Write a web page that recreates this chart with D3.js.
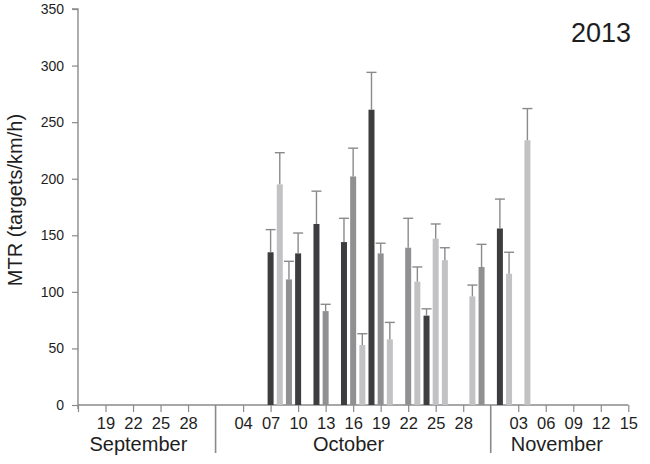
<!DOCTYPE html>
<html>
<head>
<meta charset="utf-8">
<script src="https://cdn.jsdelivr.net/npm/d3@7"></script>
<style>
html,body{margin:0;padding:0;background:#fff;}
svg{display:block;font-family:"Liberation Sans",Arial,Helvetica,sans-serif;}
</style>
</head>
<body>
<svg id="chart" width="650" height="464"></svg>
<script>
// ---- data ----
const dates = ["2013-10-07","2013-10-08","2013-10-09","2013-10-10","2013-10-12","2013-10-13",
  "2013-10-15","2013-10-16","2013-10-17","2013-10-18","2013-10-19","2013-10-20",
  "2013-10-22","2013-10-23","2013-10-24","2013-10-25","2013-10-26","2013-10-29","2013-10-30",
  "2013-11-01","2013-11-02","2013-11-04"];
const values = [135,195,111,134,160,83,144,202,53,261,134,58,139,109,79,147,128,96,122,156,116,234];
const errors = [20,28,16,18,29,6,21,25,10,33,9,15,26,13,6,13,11,10,20,26,19,28];
const shades = ["dark","light","medium","dark","dark","medium","dark","medium","light","dark","medium","light",
  "medium","light","dark","light","light","light","medium","dark","light","light"];
const yTicks = [0,50,100,150,200,250,300,350];
const xTickDates = ["2013-09-19","2013-09-22","2013-09-25","2013-09-28",
  "2013-10-04","2013-10-07","2013-10-10","2013-10-13","2013-10-16","2013-10-19","2013-10-22","2013-10-25","2013-10-28",
  "2013-11-03","2013-11-06","2013-11-09","2013-11-12","2013-11-15"];
const xTickLabels = ["19","22","25","28","04","07","10","13","16","19","22","25","28","03","06","09","12","15"];
const monthNames = ["September","October","November"];
const monthLabelDates = ["2013-09-22T14:00","2013-10-15T12:00","2013-11-07T05:00"];
const monthSeparators = ["2013-10-01","2013-10-31"];
const xDomain = ["2013-09-16","2013-11-15"];
const yearLabel = "2013";
const yLabel = "MTR (targets/km/h)";

// ---- chart ----
const parse = s => new Date(s.length > 10 ? s + ":00Z" : s + "T00:00:00Z");
const svg = d3.select("#chart");
const x = d3.scaleUtc().domain(xDomain.map(parse)).range([78, 628.3]);
const y = d3.scaleLinear().domain([0, 350]).range([405, 9]);
const color = {dark:"#3d3d3f", medium:"#909092", light:"#c2c2c4"};
const axisColor = "#8a8a8a";
const textColor = "#1e1e1e";

const data = dates.map((d,i)=>({date:parse(d), v:values[i], e:errors[i], s:shades[i]}));

// y axis
const yAxis = svg.append("g").attr("transform","translate(78,0)")
  .call(d3.axisLeft(y).tickValues(yTicks).tickSize(6).tickPadding(8).tickFormat(d3.format("d")));
yAxis.select(".domain").attr("stroke",axisColor).attr("stroke-width",1.4).attr("d","M-6,9H0V409");
yAxis.selectAll(".tick line").attr("stroke",axisColor).attr("stroke-width",1.2);
yAxis.selectAll(".tick text").attr("fill",textColor).style("font-size","14px");

// x axis
const xAxis = svg.append("g").attr("transform","translate(0,405)")
  .call(d3.axisBottom(x).tickValues([parse(xDomain[0])].concat(xTickDates.map(parse))).tickSize(7).tickPadding(5)
    .tickFormat((d,i)=> i===0 ? "" : xTickLabels[i-1]));
xAxis.select(".domain").attr("stroke",axisColor).attr("stroke-width",1.4).attr("d","M78,0H628.3");
xAxis.selectAll(".tick line").attr("stroke",axisColor).attr("stroke-width",1.2);
xAxis.selectAll(".tick text").attr("fill",textColor).style("font-size","16.5px");

// month separators
svg.append("g").selectAll("line").data(monthSeparators).join("line")
  .attr("x1",d=>x(parse(d))).attr("x2",d=>x(parse(d)))
  .attr("y1",405).attr("y2",453)
  .attr("stroke",axisColor).attr("stroke-width",1.6);

// month labels
svg.append("g").selectAll("text").data(monthNames).join("text")
  .attr("x",(d,i)=>x(parse(monthLabelDates[i]))).attr("y",451)
  .attr("text-anchor","middle").attr("fill",textColor).style("font-size","20px")
  .text(d=>d);

// bars
const bw = 6;
svg.append("g").selectAll("rect").data(data).join("rect")
  .attr("x",d=>x(d.date)-bw/2).attr("width",bw)
  .attr("y",d=>y(d.v)).attr("height",d=>y(0)-y(d.v))
  .attr("fill",d=>color[d.s]);

// error bars
const eg = svg.append("g").attr("stroke",axisColor).attr("stroke-width",1.4);
eg.selectAll("line.v").data(data).join("line").attr("class","v")
  .attr("x1",d=>x(d.date)).attr("x2",d=>x(d.date))
  .attr("y1",d=>y(d.v)).attr("y2",d=>y(d.v+d.e));
eg.selectAll("line.c").data(data).join("line").attr("class","c")
  .attr("x1",d=>x(d.date)-5).attr("x2",d=>x(d.date)+5)
  .attr("y1",d=>y(d.v+d.e)).attr("y2",d=>y(d.v+d.e));

// y label
svg.append("text").attr("transform","translate(22,200) rotate(-90)")
  .attr("text-anchor","middle").attr("fill",textColor).style("font-size","20px").text(yLabel);

// year label
svg.append("text").attr("x",631).attr("y",42).attr("text-anchor","end")
  .attr("fill",textColor).style("font-size","27px").text(yearLabel);
</script>
</body>
</html>
